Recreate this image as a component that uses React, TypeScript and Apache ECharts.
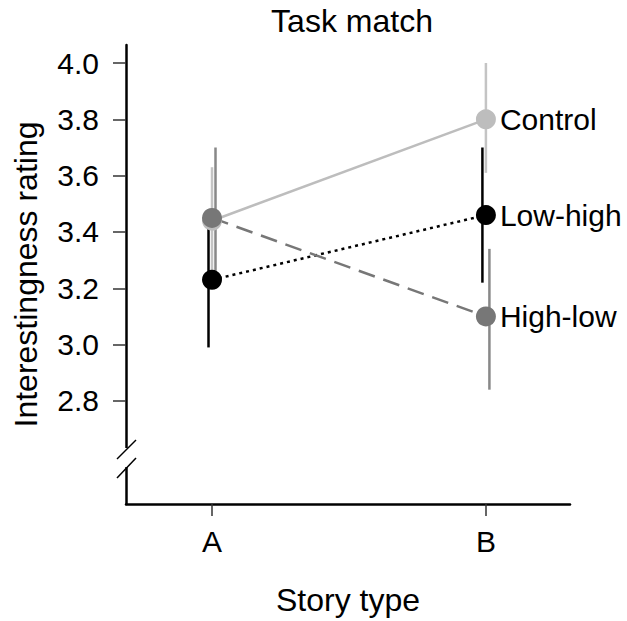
import React, { useEffect, useRef } from "react";
import * as echarts from "echarts";

const categories = ["A", "B"];
const seriesNames = ["Control", "Low-high", "High-low"];
const controlMean = [3.44, 3.8];
const controlLow = [3.25, 3.61];
const controlHigh = [3.63, 4.0];
const lowHighMean = [3.23, 3.46];
const lowHighLow = [2.99, 3.22];
const lowHighHigh = [3.47, 3.7];
const highLowMean = [3.45, 3.1];
const highLowLow = [3.2, 2.84];
const highLowHigh = [3.7, 3.34];
const yTicks = [2.8, 3.0, 3.2, 3.4, 3.6, 3.8, 4.0];

const FONT = "'Liberation Sans', Arial, Helvetica, sans-serif";

export default function App() {
  const ref = useRef<HTMLDivElement>(null);
  useEffect(() => {
    document.body.style.margin = "0";
    const chart = echarts.init(ref.current!, undefined, { renderer: "svg" });

    const groups = [
      { name: seriesNames[0], mean: controlMean, lo: controlLow, hi: controlHigh, color: "#bdbdbd", errColor: "#c4c4c4", dx: 0, line: { type: "solid" as any, width: 2.5 } },
      { name: seriesNames[1], mean: lowHighMean, lo: lowHighLow, hi: lowHighHigh, color: "#000000", errColor: "#000000", dx: -3.5, line: { type: [3, 4] as any, width: 2.5 } },
      { name: seriesNames[2], mean: highLowMean, lo: highLowLow, hi: highLowHigh, color: "#777777", errColor: "#888888", dx: 3.5, line: { type: [17, 9] as any, width: 2.5 } },
    ];

    const errSeries = groups.map((g) => ({
      type: "custom",
      name: g.name + " err",
      z: 1,
      data: categories.map((_, i) => [i, g.lo[i], g.hi[i]]),
      renderItem: (params: any, api: any) => {
        const p1 = api.coord([api.value(0), api.value(1)]);
        const p2 = api.coord([api.value(0), api.value(2)]);
        return {
          type: "line",
          shape: { x1: p1[0] + g.dx, y1: p1[1], x2: p2[0] + g.dx, y2: p2[1] },
          style: { stroke: g.errColor, lineWidth: 2.5 },
        };
      },
    }));

    const lineSeries = groups.map((g) => ({
      type: "line",
      name: g.name,
      z: 3,
      symbol: "circle",
      symbolSize: 20,
      itemStyle: { color: g.color },
      lineStyle: { color: g.color, width: g.line.width, type: g.line.type },
      data: categories.map((_, i) => [i, g.mean[i]]),
      label: {
        show: true,
        position: "right",
        distance: 4,
        color: "#000",
        fontSize: 30,
        fontFamily: FONT,
        formatter: (p: any) => (p.dataIndex === categories.length - 1 ? g.name : ""),
      },
    }));

    chart.setOption({
      animation: false,
      backgroundColor: "#ffffff",
      title: {
        text: "Task match",
        left: 347,
        textAlign: "center",
        top: 0,
        textStyle: { fontSize: 32, fontWeight: "normal", color: "#000", fontFamily: FONT },
      },
      grid: { left: 126, right: 57, top: 45, bottom: 117 },
      xAxis: {
        type: "value",
        min: -0.314,
        max: 1.307,
        name: "Story type",
        nameLocation: "middle",
        nameGap: 80,
        nameTextStyle: { fontSize: 32, color: "#000", fontFamily: FONT },
        splitLine: { show: false },
        axisLine: { show: true, onZero: false, lineStyle: { color: "#000", width: 2.5 } },
        axisTick: { show: true, customValues: [0, 1], length: 12, lineStyle: { color: "#333", width: 1.5 } },
        axisLabel: {
          customValues: [0, 1],
          margin: 22,
          fontSize: 30,
          color: "#000",
          fontFamily: FONT,
          formatter: (v: number) => categories[Math.round(v)] ?? "",
        },
      },
      yAxis: {
        type: "value",
        min: 2.434,
        max: 4.064,
        name: "Interestingness rating",
        nameLocation: "middle",
        nameGap: 84,
        nameTextStyle: { fontSize: 32, color: "#000", fontFamily: FONT },
        splitLine: { show: false },
        axisLine: { show: true, onZero: false, lineStyle: { color: "#000", width: 2.5 } },
        axisTick: { show: true, customValues: yTicks, length: 13, lineStyle: { color: "#333", width: 1.5 } },
        axisLabel: {
          customValues: yTicks,
          margin: 27,
          fontSize: 30,
          color: "#000",
          fontFamily: FONT,
          formatter: (v: number) => v.toFixed(1),
        },
      },
      graphic: [
        { type: "rect", z: 100, shape: { x: 119, y: 448, width: 14, height: 19 }, style: { fill: "#fff" } },
        { type: "line", z: 101, shape: { x1: 117, y1: 459, x2: 136, y2: 440 }, style: { stroke: "#000", lineWidth: 1.5 } },
        { type: "line", z: 101, shape: { x1: 117, y1: 478, x2: 136, y2: 458 }, style: { stroke: "#000", lineWidth: 1.5 } },
      ],
      series: [...errSeries, ...lineSeries],
    });
    return () => chart.dispose();
  }, []);
  return <div ref={ref} style={{ width: 627, height: 621 }} />;
}
